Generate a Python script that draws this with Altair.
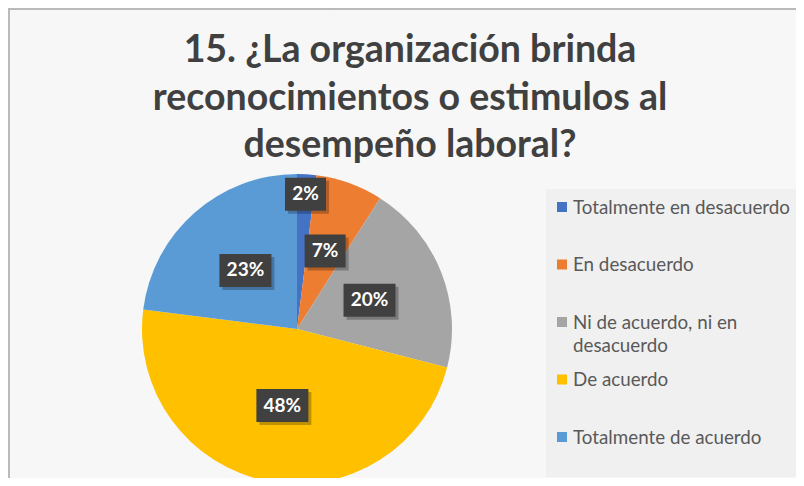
import altair as alt
import pandas as pd
import math

# ---- data ----
categories = ["Totalmente en desacuerdo", "En desacuerdo", "Ni de acuerdo, ni en desacuerdo",
              "De acuerdo", "Totalmente de acuerdo"]
legend_labels = ["Totalmente en desacuerdo", "En desacuerdo", " Ni de acuerdo, ni en\ndesacuerdo",
                 "De acuerdo", "Totalmente de acuerdo"]
values = [2, 7, 20, 48, 23]
colors = ["#4472C4", "#ED7D31", "#A5A5A5", "#FFC000", "#5B9BD5"]
title_lines = ["15. ¿La organización brinda", "reconocimientos o estimulos al", "desempeño laboral?"]

FONT = "Lato"
CX, CY, R = 289, 321, 155

total = sum(values)
df = pd.DataFrame({"cat": categories, "legend": legend_labels, "value": values,
                   "idx": list(range(len(values)))})
df["cum"] = df["value"].cumsum()
df["label"] = [f"{round(v / total * 100)}%" for v in values]

color_scale = alt.Scale(domain=categories, range=colors)
base = alt.Chart(df)

# frame
frame_df = pd.DataFrame({"a": [0]})
frame_top = alt.Chart(frame_df).mark_rule(color="#BFBFBF", strokeWidth=2).encode(
    x=alt.value(0), x2=alt.value(788), y=alt.value(1))
frame_left = alt.Chart(frame_df).mark_rule(color="#BFBFBF", strokeWidth=2).encode(
    x=alt.value(1), y=alt.value(0), y2=alt.value(470))

# legend background
legend_bg = alt.Chart(frame_df).mark_rect(color="#F8F8F8").encode(
    x=alt.value(538), x2=alt.value(788), y=alt.value(181), y2=alt.value(469))

# soft shadow around pie
shadow_df = pd.DataFrame({"r": [163, 161, 159, 157]})
shadow = alt.Chart(shadow_df).mark_arc(color="#7F7F7F", opacity=0.06).encode(
    theta=alt.value(2 * math.pi),
    radius=alt.Radius("r:Q", scale=None),
    x=alt.value(CX + 1), y=alt.value(CY + 2))

pie = base.mark_arc(outerRadius=R).encode(
    theta=alt.Theta("value:Q", stack=True),
    color=alt.Color("cat:N", scale=color_scale, legend=None),
    order=alt.Order("idx:Q"),
    x=alt.value(CX), y=alt.value(CY))

pos = base.transform_calculate(
    ang=f"(datum.cum - datum.value/2) / {total} * 2 * PI",
    rr="datum.value < 5 ? 135 : (datum.value < 10 ? 83 : 78)",
    w="length(datum.label) * 11 + 19",
).transform_calculate(
    px=f"{CX} + datum.rr * sin(datum.ang)",
    py=f"{CY} - datum.rr * cos(datum.ang)",
).transform_calculate(
    x1="datum.px - datum.w/2", x2="datum.px + datum.w/2",
    y1="datum.py - 16.5", y2="datum.py + 16.5",
    sx1="datum.px - datum.w/2 + 3", sx2="datum.px + datum.w/2 + 3",
    sy1="datum.py - 16.5 + 3", sy2="datum.py + 16.5 + 3",
)

box_shadow = pos.mark_rect(color="#000000", opacity=0.25).encode(
    x=alt.X("sx1:Q", scale=None), x2="sx2:Q",
    y=alt.Y("sy1:Q", scale=None), y2="sy2:Q")
boxes = pos.mark_rect(color="#404040").encode(
    x=alt.X("x1:Q", scale=None), x2="x2:Q",
    y=alt.Y("y1:Q", scale=None), y2="y2:Q")
labels = pos.mark_text(color="white", font=FONT, fontWeight="bold", fontSize=19,
                       baseline="middle", align="center").encode(
    x=alt.X("px:Q", scale=None), y=alt.Y("py:Q", scale=None), text="label:N")

# title
title_df = pd.DataFrame({"t": ["\n".join(title_lines)]})
title = alt.Chart(title_df).mark_text(
    font=FONT, fontWeight="bold", fontSize=37.5, color="#404040", align="center",
    baseline="alphabetic", lineBreak="\n", lineHeight=47.5).encode(
    x=alt.value(402), y=alt.value(54), text="t:N")

# legend
leg_y = alt.Y("cat:N", sort=categories, scale=alt.Scale(range=[199, 429], padding=0), axis=None)
leg_sym = base.mark_square(size=100, opacity=1).encode(
    x=alt.value(554), y=leg_y,
    color=alt.Color("cat:N", scale=color_scale, legend=None))
leg_txt = base.mark_text(font=FONT, fontSize=18.8, color="#595959", align="left",
                         baseline="alphabetic", lineBreak="\n", lineHeight=23, dy=6.5).encode(
    x=alt.value(565), y=leg_y, text="legend:N")

chart = alt.layer(frame_top, frame_left, legend_bg, shadow, pie, box_shadow, boxes, labels,
                  title, leg_sym, leg_txt).resolve_scale(y="independent").properties(
    width=788, height=470, autosize=alt.AutoSizeParams(type="none"), padding=0
).configure_view(stroke=None)

chart.save("out.html", embed_options={"renderer": "svg", "actions": False})
